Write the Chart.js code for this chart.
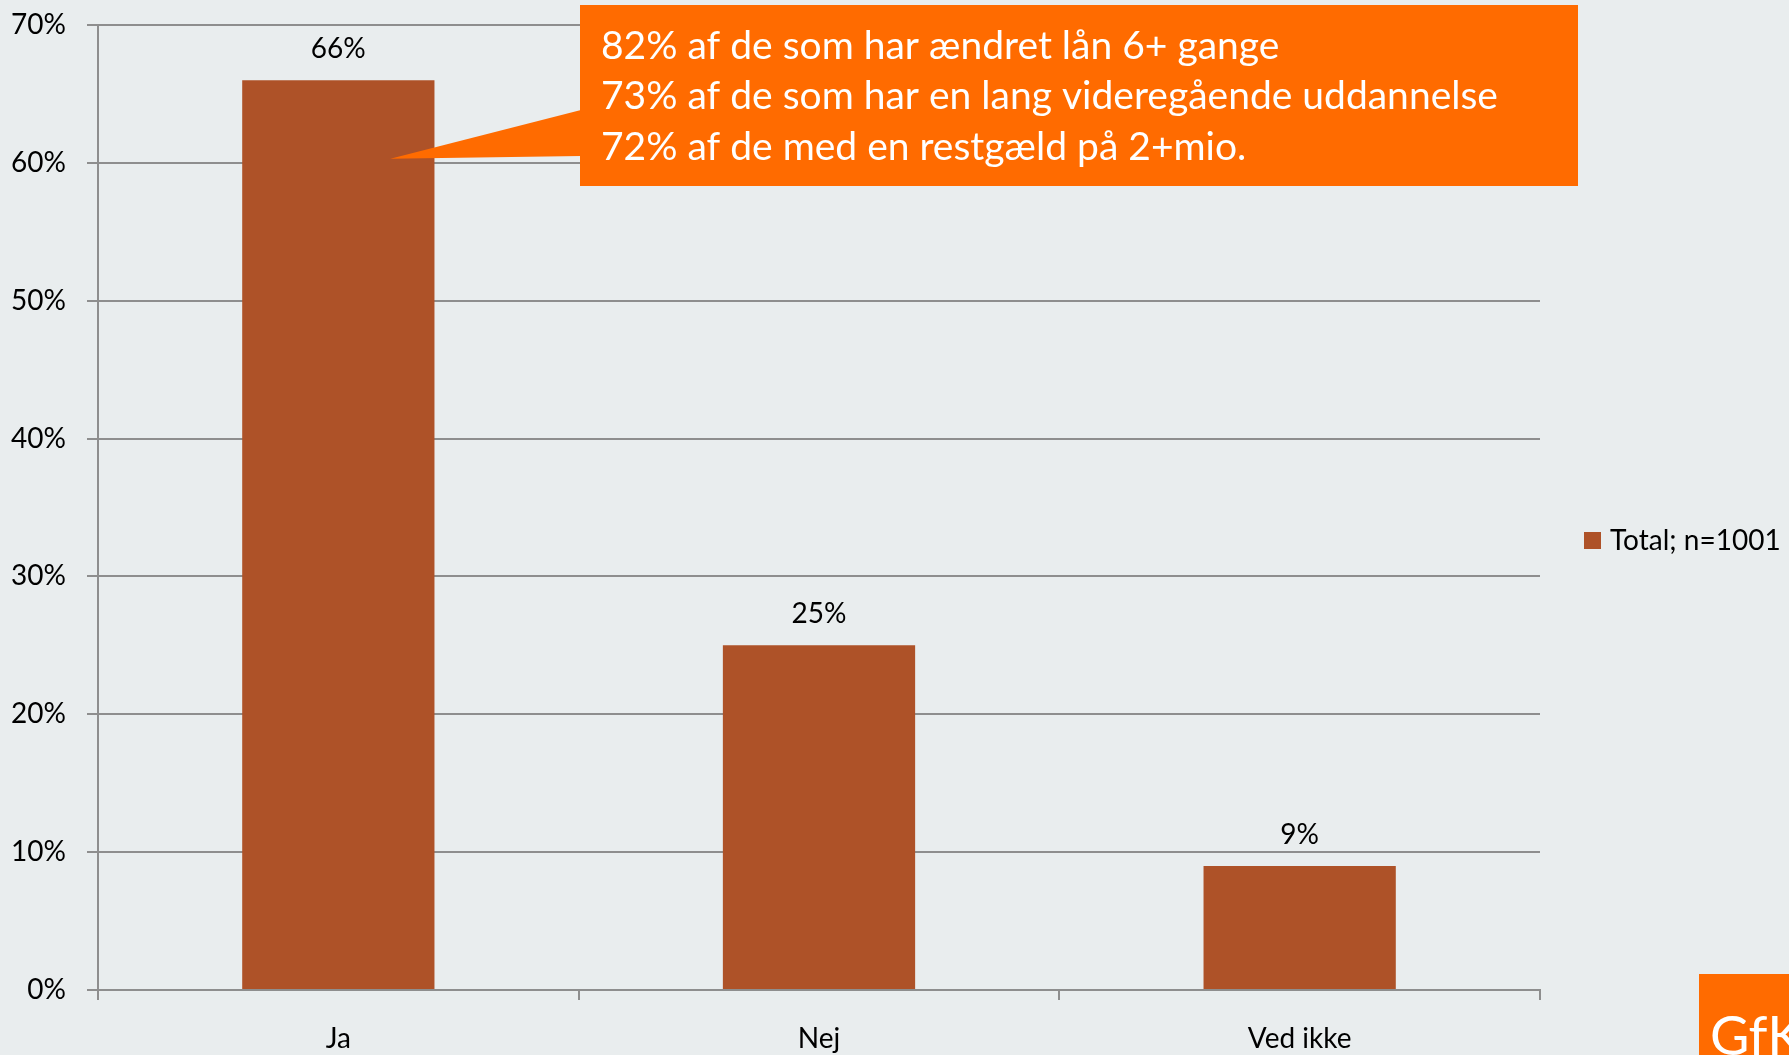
<!DOCTYPE html>
<html>
<head>
<meta charset="utf-8">
<script src="https://cdn.jsdelivr.net/npm/chart.js@4/dist/chart.umd.min.js"></script>
<style>
html,body{margin:0;padding:0;background:#E9EDEE;overflow:hidden;}
#wrap{width:1789px;height:1055px;position:relative;}
</style>
</head>
<body>
<div id="wrap"><canvas id="c" width="1789" height="1055"></canvas></div>
<script>
const categories = ["Ja", "Nej", "Ved ikke"];
const seriesLabel = "Total; n=1001";
const totalValues = [66, 25, 9];
const yTicks = [0, 10, 20, 30, 40, 50, 60, 70];
const calloutLines = [
  "82% af de som har ændret lån 6+ gange",
  "73% af de som har en lang videregående uddannelse",
  "72% af de med en restgæld på 2+mio."
];
const logoText = "GfK";

const FONT = "Lato, 'Open Sans', sans-serif";
const BAR = "#AE5228";
const ORANGE = "#FF6B00";
const GRID = "#8E8E8E";
const FS = 28;

const bgPlugin = {
  id: 'bg',
  beforeDraw(chart) {
    const ctx = chart.ctx;
    ctx.save();
    ctx.fillStyle = "#E9EDEE";
    ctx.fillRect(0, 0, chart.width, chart.height);
    ctx.restore();
  }
};

const extrasPlugin = {
  id: 'extras',
  afterDatasetsDraw(chart) {
    const ctx = chart.ctx;
    const meta = chart.getDatasetMeta(0);
    ctx.save();
    ctx.fillStyle = "#000";
    ctx.font = FS + "px " + FONT;
    ctx.textAlign = "center";
    ctx.textBaseline = "middle";
    meta.data.forEach((bar, i) => {
      ctx.fillText(totalValues[i] + "%", bar.x, bar.y - 31);
    });

    const ys = chart.scales.y;
    const tipX = meta.data[0].x + 52;
    const tipY = ys.getPixelForValue(60.3);
    const bx = 580, by = 5, bw = 998, bh = 181;
    ctx.fillStyle = ORANGE;
    ctx.fillRect(bx, by, bw, bh);
    ctx.beginPath();
    ctx.moveTo(bx + 1, 110);
    ctx.lineTo(tipX, tipY);
    ctx.lineTo(bx + 1, 156);
    ctx.closePath();
    ctx.fill();
    ctx.fillStyle = "#fff";
    ctx.font = "39px " + FONT;
    ctx.textAlign = "left";
    ctx.textBaseline = "middle";
    calloutLines.forEach((t, i) => ctx.fillText(t, 601, 46 + i * 50.5));

    ctx.fillStyle = BAR;
    ctx.fillRect(1584, 532, 17, 17);
    ctx.fillStyle = "#000";
    ctx.font = FS + "px " + FONT;
    ctx.textBaseline = "middle";
    ctx.fillText(seriesLabel, 1610, 541);

    ctx.fillStyle = ORANGE;
    ctx.fillRect(1699, 974, 90, 81);
    ctx.fillStyle = "#fff";
    ctx.font = "54px " + FONT;
    ctx.textBaseline = "alphabetic";
    ctx.fillText(logoText, 1710, 1055);
    ctx.restore();
  }
};

new Chart(document.getElementById('c'), {
  type: 'bar',
  data: {
    labels: categories,
    datasets: [{
      label: seriesLabel,
      data: totalValues,
      backgroundColor: BAR,
      borderWidth: 0,
      barPercentage: 0.4,
      categoryPercentage: 1.0
    }]
  },
  options: {
    responsive: false,
    animation: false,
    devicePixelRatio: 1,
    layout: { padding: { left: 0, right: 249, top: 25, bottom: 0 } },
    plugins: { legend: { display: false }, tooltip: { enabled: false } },
    scales: {
      x: {
        grid: { display: true, drawOnChartArea: false, drawTicks: true, tickLength: 10, color: GRID, lineWidth: 2, offset: true },
        border: { display: true, color: GRID, width: 2 },
        ticks: { color: "#000", font: { family: FONT, size: FS }, padding: 22, maxRotation: 0 },
        afterFit(s) { s.height = 65; s.paddingLeft = 0; s.paddingRight = 0; }
      },
      y: {
        min: 0, max: 70,
        afterBuildTicks(s) { s.ticks = yTicks.map(v => ({ value: v })); },
        grid: { color: GRID, lineWidth: 2, drawTicks: true, tickLength: 11 },
        border: { display: true, color: GRID, width: 2 },
        ticks: { color: "#000", font: { family: FONT, size: FS }, padding: 21, callback: v => v + "%" },
        afterFit(s) { s.width = 98; s.paddingTop = 0; s.paddingBottom = 0; }
      }
    }
  },
  plugins: [bgPlugin, extrasPlugin]
});
</script>
</body>
</html>
